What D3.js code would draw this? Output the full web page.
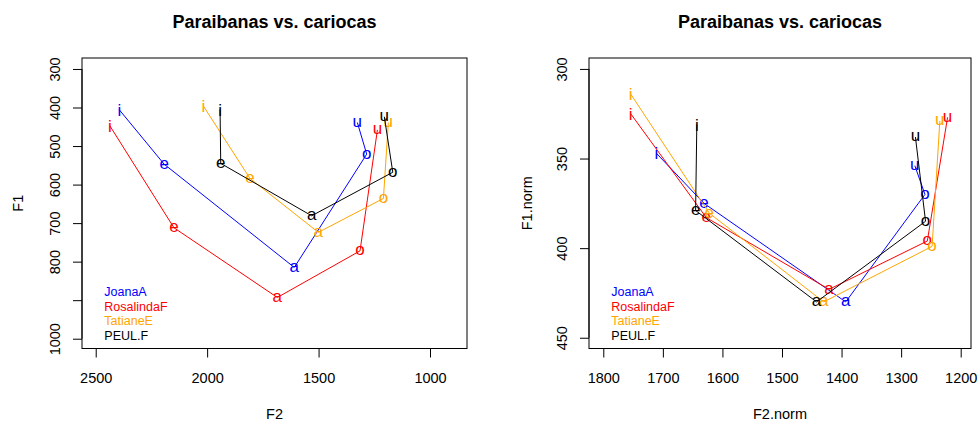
<!DOCTYPE html>
<html><head><meta charset="utf-8">
<script src="https://cdn.jsdelivr.net/npm/d3@7"></script>
<style>
body{margin:0;background:#fff}
svg{display:block}
text{font-family:"Liberation Sans", Arial, sans-serif}
</style>
</head><body>
<svg id="chart" width="978" height="422"></svg>
<script>
// ---------------- DATA ----------------
const speakers = ["JoanaA", "RosalindaF", "TatianeE", "PEUL.F"];
const speakerColors = ["blue", "red", "orange", "black"];
const vowels = ["i", "e", "a", "o", "u"];

// Left panel: raw formants (Hz)
const f2Joana    = [2394, 2193, 1609, 1284, 1326];
const f1Joana    = [406, 547, 815, 521, 439];
const f2Rosalinda = [2436, 2149, 1685, 1314, 1236];
const f1Rosalinda = [448, 712, 893, 772, 458];
const f2Tatiane  = [2017, 1808, 1501, 1209, 1187];
const f1Tatiane  = [396, 584, 724, 636, 439];
const f2Peul     = [1942, 1939, 1531, 1167, 1205];
const f1Peul     = [405, 545, 681, 568, 424];

// Right panel: normalised formants
const f2nJoana    = [1711, 1631, 1393, 1260, 1277];
const f1nJoana    = [347, 375, 430, 370, 354];
const f2nRosalinda = [1754, 1627, 1421, 1256, 1222];
const f1nRosalinda = [325, 383, 423, 396, 327];
const f2nTatiane  = [1754, 1622, 1430, 1248, 1235];
const f1nTatiane  = [314, 380.5, 430, 399, 329];
const f2nPeul     = [1643, 1645, 1442, 1259, 1276];
const f1nPeul     = [331, 379, 430, 385, 338];

// Axis ticks
const leftXTicks = [2500, 2000, 1500, 1000];
const leftYTicks = [300, 400, 500, 600, 700, 800, 900, 1000];
const leftYLabels = ["300", "400", "500", "600", "700", "800", "", "1000"];
const rightXTicks = [1800, 1700, 1600, 1500, 1400, 1300, 1200];
const rightYTicks = [300, 350, 400, 450];

const titleText = "Paraibanas vs. cariocas";

// ---------------- DRAW ----------------
const svg = d3.select("#chart");

function panel(opts) {
  const {x, y, box, xTicks, yTicks, yLabels, xTitle, yTitle, yTitleX, xs, ys} = opts;
  const g = svg.append("g");

  // title
  g.append("text")
    .attr("x", (box.l + box.r) / 2).attr("y", 27.7)
    .attr("text-anchor", "middle")
    .style("font-size", "18px").style("font-weight", "bold")
    .text(titleText);

  // x axis
  const xa = g.append("g").attr("transform", `translate(0,${box.b})`)
    .call(d3.axisBottom(x).tickValues(xTicks).tickSize(9).tickSizeOuter(0)
      .tickFormat(d3.format("d")));
  xa.select(".domain").remove();
  xa.append("line")
    .attr("x1", x(xTicks[0])).attr("x2", x(xTicks[xTicks.length - 1]))
    .attr("y1", 0).attr("y2", 0).attr("stroke", "#000");
  xa.selectAll(".tick line").attr("stroke", "#000");
  xa.selectAll(".tick text")
    .attr("y", 382.7 - box.b).attr("dy", null)
    .attr("fill", "#000").style("font-size", "14.5px")
    .style("font-family", "'Liberation Sans', Arial, sans-serif");

  // y axis
  const ya = g.append("g").attr("transform", `translate(${box.l},0)`)
    .call(d3.axisLeft(y).tickValues(yTicks).tickSize(9).tickSizeOuter(0)
      .tickFormat((d, i) => yLabels ? yLabels[i] : String(d)));
  ya.select(".domain").remove();
  ya.append("line")
    .attr("y1", y(yTicks[0])).attr("y2", y(yTicks[yTicks.length - 1]))
    .attr("x1", 0).attr("x2", 0).attr("stroke", "#000");
  ya.selectAll(".tick line").attr("stroke", "#000");
  ya.selectAll(".tick text")
    .attr("x", null).attr("dy", null)
    .attr("transform", "translate(-22.3,0) rotate(-90)")
    .attr("text-anchor", "middle")
    .attr("fill", "#000").style("font-size", "14.5px")
    .style("font-family", "'Liberation Sans', Arial, sans-serif");

  // box
  g.append("rect")
    .attr("x", box.l).attr("y", box.t)
    .attr("width", box.r - box.l).attr("height", box.b - box.t)
    .attr("fill", "none").attr("stroke", "#000").attr("stroke-width", 1);

  // axis titles
  g.append("text")
    .attr("x", (box.l + box.r) / 2).attr("y", 418.5)
    .attr("text-anchor", "middle").style("font-size", "14.5px")
    .text(xTitle);
  g.append("text")
    .attr("transform", `translate(${yTitleX},${(box.t + box.b) / 2}) rotate(-90)`)
    .attr("text-anchor", "middle").style("font-size", "14.5px")
    .text(yTitle);

  // series
  const line = d3.line().x(d => x(d[0])).y(d => y(d[1]));
  speakers.forEach((s, k) => {
    const pts = xs[k].map((v, i) => [v, ys[k][i], vowels[i]]);
    g.append("path").datum(pts)
      .attr("d", line).attr("fill", "none")
      .attr("stroke", speakerColors[k]).attr("stroke-width", 1);
    g.selectAll(null).data(pts).enter().append("text")
      .attr("x", d => x(d[0])).attr("y", d => y(d[1]))
      .attr("dy", d => d[2] === "i" ? "0.36em" : "0.26em")
      .attr("text-anchor", "middle")
      .attr("fill", speakerColors[k])
      .style("font-size", "17px")
      .text(d => d[2]);
  });

  // legend
  const lg = g.append("g");
  speakers.forEach((s, k) => {
    lg.append("text")
      .attr("x", box.l + 22.3).attr("y", 296 + k * 14.5)
      .attr("fill", speakerColors[k]).style("font-size", "12.5px")
      .text(s);
  });
}

const boxL = {l: 82, r: 467, t: 58, b: 348.5};
const boxR = {l: 589, r: 971, t: 58, b: 348.5};

panel({
  x: d3.scaleLinear().domain([2561.5, 834]).range([boxL.l, boxL.r]),
  y: d3.scaleLinear().domain([271.5, 1025.4]).range([boxL.t, boxL.b]),
  box: boxL, xTicks: leftXTicks, yTicks: leftYTicks, yLabels: leftYLabels,
  xTitle: "F2", yTitle: "F1", yTitleX: 23,
  xs: [f2Joana, f2Rosalinda, f2Tatiane, f2Peul],
  ys: [f1Joana, f1Rosalinda, f1Tatiane, f1Peul]
});

panel({
  x: d3.scaleLinear().domain([1824, 1182.7]).range([boxR.l, boxR.r]),
  y: d3.scaleLinear().domain([293.9, 456]).range([boxR.t, boxR.b]),
  box: boxR, xTicks: rightXTicks, yTicks: rightYTicks, yLabels: null,
  xTitle: "F2.norm", yTitle: "F1.norm", yTitleX: 531.7,
  xs: [f2nJoana, f2nRosalinda, f2nTatiane, f2nPeul],
  ys: [f1nJoana, f1nRosalinda, f1nTatiane, f1nPeul]
});
</script>
</body></html>
